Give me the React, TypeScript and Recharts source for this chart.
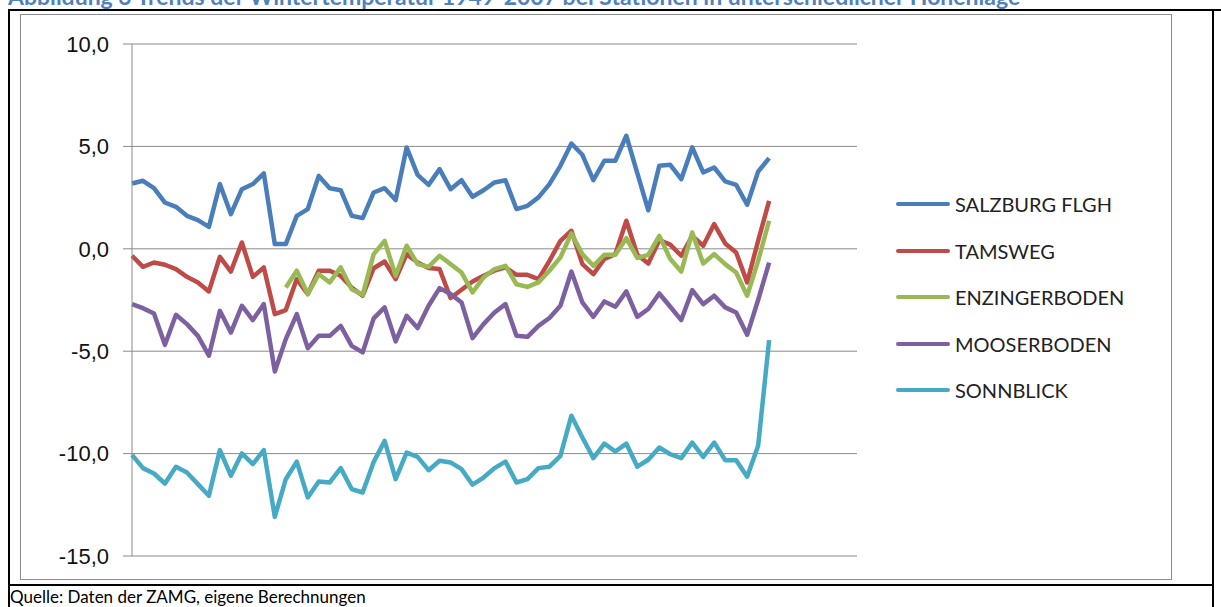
import { LineChart, Line, XAxis, YAxis, CartesianGrid, Legend } from "recharts"

// winters 1949 .. 2007 carry data, the category axis runs on to 2015
const years = Array.from({ length: 67 }, (_, i) => String(1949 + i))

const salzburg = [
  3.19, 3.32, 2.96, 2.26, 2.05, 1.61, 1.4, 1.07, 3.16, 1.69, 2.91, 3.16, 3.68, 0.23, 0.23, 1.61,
  1.94, 3.56, 2.96, 2.86, 1.61, 1.5, 2.75, 2.96, 2.38, 4.95, 3.61, 3.12, 3.89, 2.91, 3.35, 2.54,
  2.86, 3.24, 3.35, 1.94, 2.1, 2.51, 3.16, 4.05, 5.14, 4.59, 3.35, 4.3, 4.3, 5.52, 3.7, 1.88,
  4.05, 4.1, 3.4, 4.95, 3.73, 3.97, 3.29, 3.12, 2.15, 3.77, 4.43,
]
const tamsweg = [
  -0.34, -0.88, -0.67, -0.78, -0.99, -1.37, -1.64, -2.08, -0.39, -1.11, 0.31, -1.37, -0.91, -3.19,
  -2.99, -1.48, -2.21, -1.07, -1.07, -1.32, -1.89, -2.29, -0.95, -0.62, -1.48, -0.26, -0.67, -0.94,
  -0.99, -2.4, -2.0, -1.6, -1.32, -1.07, -0.91, -1.27, -1.27, -1.48, -0.59, 0.39, 0.88, -0.75,
  -1.24, -0.5, -0.26, 1.37, -0.29, -0.72, 0.42, 0.2, -0.34, 0.63, 0.15, 1.21, 0.26, -0.18, -1.64,
  0.39, 2.34,
]
const enzingerboden = [
  null, null, null, null, null, null, null, null, null, null, null, null, null, null,
  -1.89, -1.07, -2.21, -1.24, -1.64, -0.91, -1.97, -2.25, -0.26, 0.39, -1.32, 0.15, -0.75, -0.88,
  -0.34, -0.75, -1.16, -2.13, -1.4, -0.99, -0.83, -1.73, -1.86, -1.64, -1.07, -0.42, 0.75, -0.26,
  -0.83, -0.29, -0.29, 0.52, -0.45, -0.3, 0.63, -0.5, -1.11, 0.8, -0.72, -0.26, -0.75, -1.16,
  -2.29, -0.59, 1.37,
]
const mooserboden = [
  -2.7, -2.9, -3.16, -4.69, -3.22, -3.68, -4.25, -5.22, -3.03, -4.09, -2.78, -3.48, -2.7, -5.99,
  -4.41, -3.19, -4.85, -4.25, -4.25, -3.76, -4.74, -5.06, -3.4, -2.86, -4.52, -3.27, -3.87, -2.78,
  -1.92, -2.21, -2.62, -4.36, -3.68, -3.11, -2.7, -4.25, -4.3, -3.76, -3.38, -2.78, -1.11, -2.62,
  -3.32, -2.57, -2.83, -2.08, -3.32, -2.94, -2.18, -2.83, -3.48, -2.02, -2.7, -2.29, -2.86, -3.11,
  -4.2, -2.5, -0.67,
]
const sonnblick = [
  -10.06, -10.71, -10.97, -11.46, -10.64, -10.92, -11.49, -12.06, -9.83, -11.08, -9.99, -10.51,
  -9.83, -13.09, -11.25, -10.39, -12.14, -11.36, -11.41, -10.71, -11.73, -11.9, -10.41, -9.38,
  -11.25, -9.95, -10.16, -10.81, -10.35, -10.43, -10.76, -11.52, -11.17, -10.71, -10.39, -11.41,
  -11.25, -10.71, -10.64, -10.11, -8.15, -9.21, -10.22, -9.51, -9.9, -9.51, -10.64, -10.3, -9.7,
  -10.03, -10.22, -9.46, -10.16, -9.46, -10.32, -10.32, -11.13, -9.62, -4.46,
]

const yTicks = [-15, -10, -5, 0, 5, 10]

const series = [
  { key: "salzburg", name: "SALZBURG FLGH", color: "#4a7ebb" },
  { key: "tamsweg", name: "TAMSWEG", color: "#be4b48" },
  { key: "enzingerboden", name: "ENZINGERBODEN", color: "#98b954" },
  { key: "mooserboden", name: "MOOSERBODEN", color: "#7d60a0" },
  { key: "sonnblick", name: "SONNBLICK", color: "#46aac5" },
]

const data = years.map((year, i) => ({
  year,
  salzburg: salzburg[i] ?? null,
  tamsweg: tamsweg[i] ?? null,
  enzingerboden: enzingerboden[i] ?? null,
  mooserboden: mooserboden[i] ?? null,
  sonnblick: sonnblick[i] ?? null,
}))

const font = "Lato, 'Liberation Sans', sans-serif"
const tickFont = "'Liberation Sans', Arial, sans-serif"

function StationLegend() {
  return (
    <div>
      {series.map((s) => (
        <div
          key={s.key}
          style={{ display: "flex", alignItems: "center", height: 46.5 }}
        >
          <div
            style={{ width: 54, height: 4, borderRadius: 2, background: s.color, marginRight: 5 }}
          />
          <span style={{ fontFamily: font, fontSize: 20, color: "#222" }}>{s.name}</span>
        </div>
      ))}
    </div>
  )
}

export default function App() {
  return (
    <div
      style={{
        position: "fixed",
        left: 0,
        top: 0,
        width: 1221,
        height: 607,
        background: "#fff",
        overflow: "hidden",
      }}
    >
      <div
        style={{
          position: "absolute",
          left: 8,
          top: -18,
          fontFamily: font,
          fontWeight: 700,
          fontSize: 23,
          color: "#4f81bd",
          whiteSpace: "nowrap",
        }}
      >
        Abbildung 3 Trends der Wintertemperatur 1949-2007 bei Stationen in unterschiedlicher Höhenlage
      </div>

      {/* table frame around the figure */}
      <div style={{ position: "absolute", left: 8, top: 9, width: 1213, height: 2, background: "#000" }} />
      <div style={{ position: "absolute", left: 8, top: 9, width: 2, height: 598, background: "#000" }} />
      <div style={{ position: "absolute", left: 1212, top: 9, width: 2, height: 598, background: "#000" }} />
      <div style={{ position: "absolute", left: 8, top: 584, width: 1206, height: 2, background: "#000" }} />

      {/* chart area border */}
      <div
        style={{
          position: "absolute",
          left: 20,
          top: 14,
          width: 1152,
          height: 566,
          border: "1px solid #8c8c8c",
          boxSizing: "border-box",
        }}
      />

      <div style={{ position: "absolute", left: 0, top: 0 }}>
        <LineChart
          width={1221}
          height={607}
          data={data}
          margin={{ top: 44, right: 364, bottom: 51, left: 0 }}
        >
          <CartesianGrid vertical={false} stroke="#8a8a8a" strokeWidth={1} />
          <XAxis dataKey="year" hide />
          <YAxis
            domain={[-15, 10]}
            ticks={yTicks}
            interval={0}
            width={132}
            axisLine={{ stroke: "#8a8a8a" }}
            tickLine={{ stroke: "#8a8a8a" }}
            tickSize={9}
            tickMargin={14}
            tick={{ fill: "#111", fontSize: 22, fontFamily: tickFont }}
            tickFormatter={(v: number) => v.toFixed(1).replace(".", ",")}
          />
          <Legend
            layout="horizontal"
            verticalAlign="middle"
            align="center"
            content={<StationLegend />}
            wrapperStyle={{ position: "absolute", left: 896, top: 181, width: 260 }}
          />
          {series.map((s) => (
            <Line
              key={s.key}
              type="linear"
              dataKey={s.key}
              name={s.name}
              stroke={s.color}
              strokeWidth={4.5}
              strokeLinejoin="round"
              dot={false}
              isAnimationActive={false}
            />
          ))}
        </LineChart>
      </div>

      <div
        style={{
          position: "absolute",
          left: 10,
          top: 586,
          fontFamily: font,
          fontSize: 17,
          color: "#000",
          whiteSpace: "nowrap",
        }}
      >
        Quelle: Daten der ZAMG, eigene Berechnungen
      </div>
    </div>
  )
}
